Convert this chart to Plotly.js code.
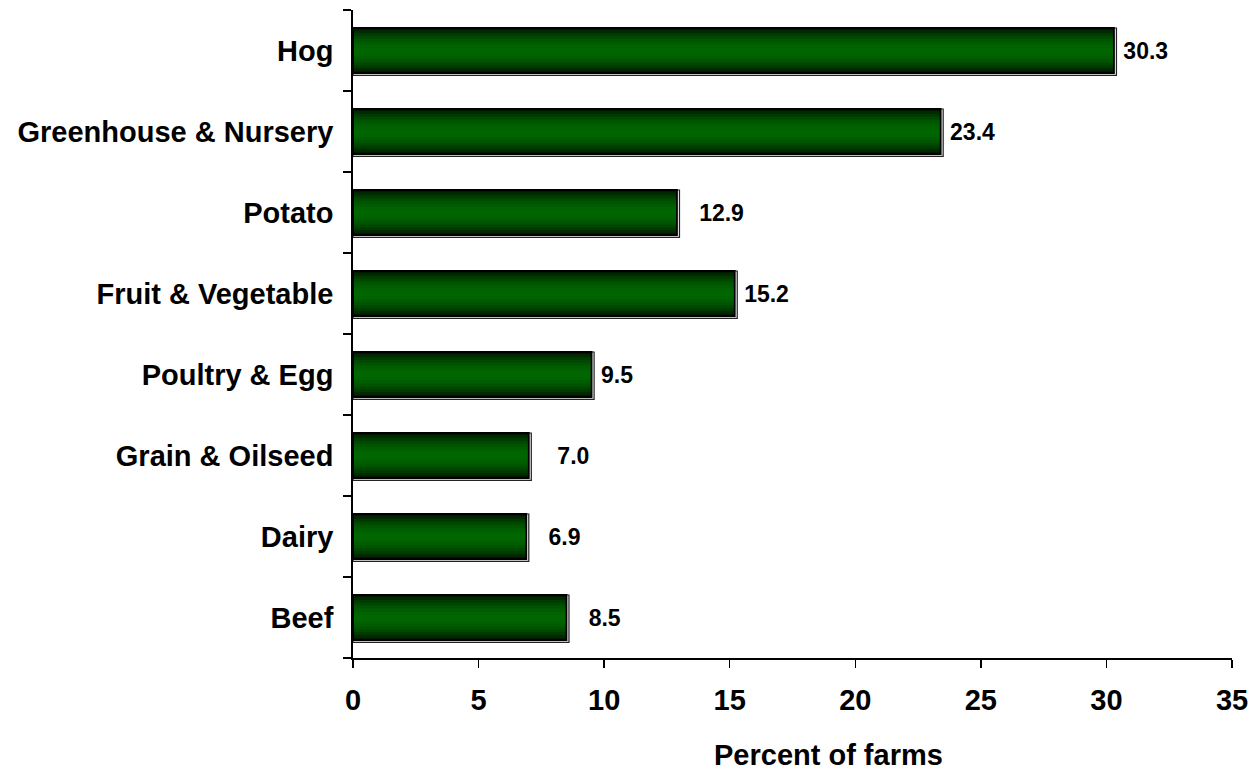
<!DOCTYPE html>
<html>
<head>
<meta charset="utf-8">
<script src="https://cdn.plot.ly/plotly-3.0.1.min.js"></script>
<style>html,body{margin:0;padding:0;background:#fff;}#chart{width:1249px;height:774px;}</style>
</head>
<body>
<div id="chart"></div>
<script>
// Data (bottom to top)
const categories = ["Beef", "Dairy", "Grain & Oilseed", "Poultry & Egg", "Fruit & Vegetable", "Potato", "Greenhouse & Nursery", "Hog"];
const percentFarms = [8.5, 6.9, 7.0, 9.5, 15.2, 12.9, 23.4, 30.3];
const valueLabels = ["8.5", "6.9", "7.0", "9.5", "15.2", "12.9", "23.4", "30.3"];
const labelGaps = [3, 3, 4, 1, 1, 3, 1, 1]; // leading spaces before value labels
const xTicks = [0, 5, 10, 15, 20, 25, 30, 35];

const NB = "\u00a0";
const FONT = "Arial, 'Liberation Sans', sans-serif";
const barW = 0.556;

const traces = [];
// shadow layer
traces.push({
  type: "bar", orientation: "h", y: categories,
  x: percentFarms.map(v => v + 0.1),
  width: barW + 0.03, offset: -barW / 2 - 0.03,
  marker: {color: "#f4f4f4", line: {color: "#222", width: 1.2}},
  hoverinfo: "skip", showlegend: false
});
// gradient layers
const layers = [
  [1.00, "#001a00"], [0.90, "#002a00"], [0.78, "#003a00"], [0.66, "#004700"],
  [0.53, "#005300"], [0.40, "#005c00"], [0.26, "#006200"], [0.12, "#006600"]
];
layers.forEach(([f, c]) => {
  traces.push({
    type: "bar", orientation: "h", y: categories, x: percentFarms,
    width: barW * f, offset: -barW * f / 2,
    marker: {color: c, line: {width: 0}},
    hoverinfo: "skip", showlegend: false
  });
});
// outline + labels
traces.push({
  type: "bar", orientation: "h", y: categories, x: percentFarms,
  width: barW, offset: -barW / 2,
  marker: {color: "rgba(0,0,0,0)", line: {color: "#000", width: 1.8}},
  text: valueLabels.map((t, i) => NB.repeat(labelGaps[i]) + t),
  textposition: "outside", cliponaxis: false,
  textfont: {family: FONT, size: 23, color: "#000", weight: "bold"},
  showlegend: false
});

const layout = {
  width: 1249, height: 774,
  margin: {l: 353, r: 17, t: 10, b: 116},
  paper_bgcolor: "#fff", plot_bgcolor: "#fff",
  barmode: "overlay",
  showlegend: false,
  font: {family: FONT, color: "#000"},
  xaxis: {
    range: [0, 35], tickvals: xTicks, ticktext: xTicks.map(String),
    ticks: "outside", ticklen: 8, tickwidth: 1.5, tickcolor: "#000",
    showline: true, linecolor: "#000", linewidth: 1.8,
    showgrid: false, zeroline: false,
    tickfont: {family: FONT, size: 29, color: "#000", weight: "bold"},
    ticklabelstandoff: 7
  },
  yaxis: {
    type: "category", range: [-0.5, 7.5],
    categoryorder: "array", categoryarray: categories,
    ticks: "outside", ticklen: 8, tickwidth: 1.5, tickcolor: "#000",
    tickson: "boundaries",
    showline: true, linecolor: "#000", linewidth: 1.8,
    showgrid: false, zeroline: false,
    tickfont: {family: FONT, size: 29, color: "#000", weight: "bold"},
    ticklabelstandoff: 12
  },
  annotations: [{
    text: "Percent of farms", xref: "paper", yref: "paper",
    x: 0.5415, y: -0.1765, xanchor: "center", yanchor: "bottom",
    showarrow: false, borderpad: 0,
    font: {family: FONT, size: 29, color: "#000", weight: "bold"}
  }]
};

Plotly.newPlot("chart", traces, layout, {displayModeBar: false, staticPlot: true});
</script>
</body>
</html>
